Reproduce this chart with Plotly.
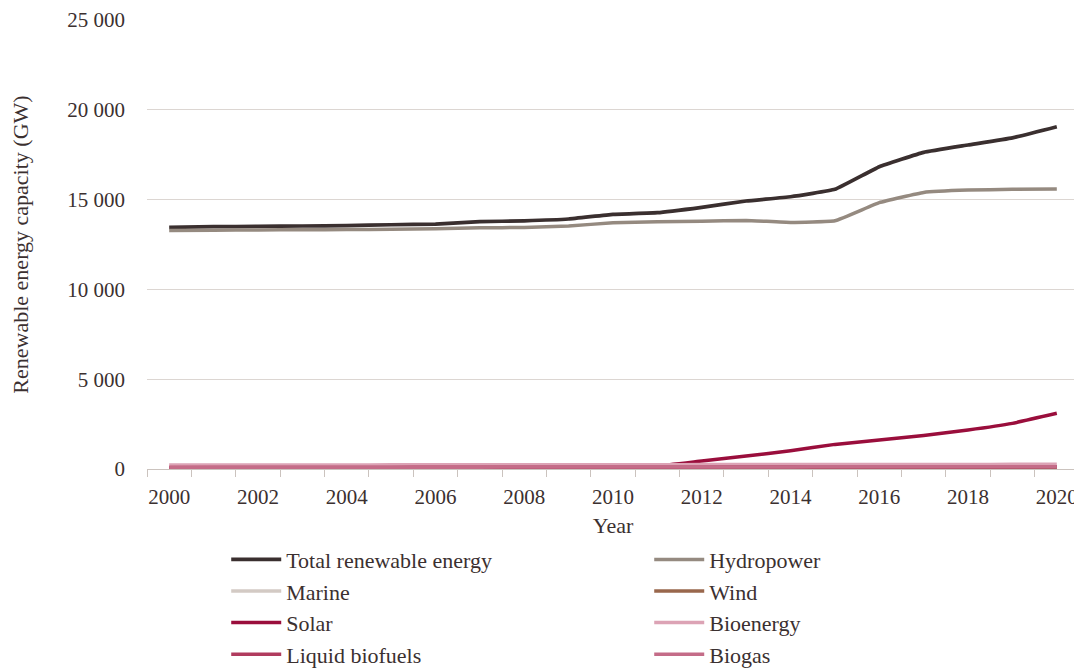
import plotly.graph_objects as go

years = list(range(2000, 2021))
total = [13450, 13490, 13510, 13530, 13550, 13600, 13640, 13770, 13820, 13920, 14180,
         14270, 14570, 14920, 15160, 15570, 16830, 17630, 18040, 18440, 19060]
hydropower = [13280, 13300, 13310, 13320, 13330, 13350, 13380, 13430, 13450, 13530, 13710,
              13760, 13800, 13840, 13730, 13820, 14830, 15400, 15530, 15570, 15590]
marine = [1, 1, 1, 1, 1, 1, 1, 1, 1, 1, 1, 1, 1, 1, 1, 1, 1, 1, 1, 1, 1]
wind = [60, 62, 64, 66, 68, 70, 72, 74, 76, 78, 80, 82, 84, 86, 88, 90, 92, 94, 96, 98, 100]
solar = [1, 1, 2, 3, 4, 5, 6, 9, 15, 30, 70, 170, 445, 720, 1020, 1370, 1610, 1870, 2170, 2540, 3100]
bioenergy = [220, 222, 224, 226, 228, 230, 232, 234, 236, 238, 240, 242, 244, 246, 248, 250,
             252, 254, 256, 258, 260]
liquid_biofuels = [80, 82, 84, 86, 88, 90, 92, 94, 96, 98, 100, 102, 104, 106, 108, 110,
                   112, 114, 116, 118, 120]
biogas = [90, 92, 94, 96, 98, 100, 102, 104, 106, 108, 110, 112, 114, 116, 118, 120,
          122, 124, 126, 128, 130]

series = [
    ("Total renewable energy", total, "#3a2f2f", 3.7),
    ("Hydropower", hydropower, "#958a80", 3.5),
    ("Marine", marine, "#d3cac4", 3.5),
    ("Wind", wind, "#99674c", 3.5),
    ("Solar", solar, "#9a0e3c", 3.5),
    ("Bioenergy", bioenergy, "#dca3b5", 3.5),
    ("Liquid biofuels", liquid_biofuels, "#b03b5e", 3.5),
    ("Biogas", biogas, "#c46c88", 3.5),
]

x_tick_vals = [2000, 2002, 2004, 2006, 2008, 2010, 2012, 2014, 2016, 2018, 2020]
x_tick_text = ["2000", "2002", "2004", "2006", "2008", "2010", "2012", "2014", "2016", "2018", "2020"]
y_tick_vals = [0, 5000, 10000, 15000, 20000, 25000]
y_tick_text = ["0", "5 000", "10 000", "15 000", "20 000", "25 000"]

FONT = "Liberation Serif, DejaVu Serif, serif"
TXT = "#3b3030"

fig = go.Figure()
for name, vals, color, w in series:
    fig.add_trace(go.Scatter(x=years, y=vals, name=name, mode="lines",
                             line=dict(color=color, width=w, shape="spline", smoothing=0.3)))

# the page adds an 8px body margin, so the figure is drawn 8px smaller
fig.update_layout(
    width=1074, height=660,
    margin=dict(l=139, r=3, t=12, b=199, autoexpand=False),
    paper_bgcolor="white", plot_bgcolor="white",
    font=dict(family=FONT, color=TXT, size=20),
    showlegend=True,
    legend=dict(orientation="h", x=0.085, xanchor="left", y=-0.155, yanchor="top",
                entrywidth=358, entrywidthmode="pixels", font=dict(size=22, color=TXT),
                itemwidth=50, tracegroupgap=0),
    xaxis=dict(range=[1999.5, 2020.5], tickmode="array", tickvals=x_tick_vals, ticktext=x_tick_text,
               ticks="", showgrid=False, zeroline=False,
               showline=True, linecolor="#cbc3be", linewidth=1,
               tickfont=dict(size=21, color=TXT), ticklabelstandoff=9,
               minor=dict(ticks="outside", tick0=1999.5, dtick=1, ticklen=7, tickcolor="#cbc3be",
                          tickwidth=1, showgrid=False),
               title=dict(text="Year", font=dict(size=22, color=TXT), standoff=9)),
    yaxis=dict(range=[0, 25000], tickmode="array", tickvals=y_tick_vals, ticktext=y_tick_text,
               showgrid=True, gridcolor="#dcd6d2", gridwidth=1, zeroline=False,
               showline=False, ticks="", ticklabelstandoff=21,
               tickfont=dict(size=21, color=TXT),
               title=dict(text="Renewable energy capacity (GW)", font=dict(size=22, color=TXT), standoff=33)),
)

fig.write_html("out.html")
